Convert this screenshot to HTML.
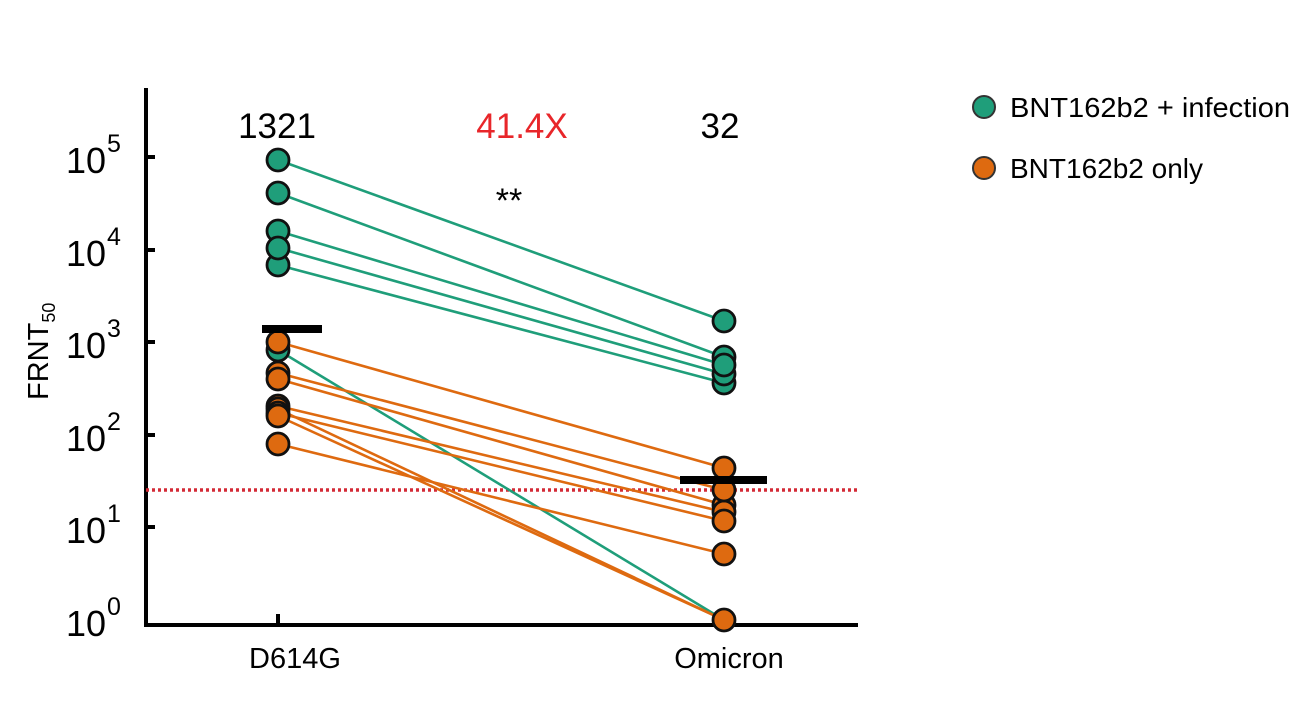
<!DOCTYPE html>
<html><head><style>body{margin:0;background:#fff}svg{display:block}</style></head><body>
<svg width="1303" height="728" xmlns="http://www.w3.org/2000/svg" font-family="Liberation Sans, Arial, sans-serif">
<rect width="1303" height="728" fill="#fff"/>
<line x1="146" y1="88" x2="146" y2="627" stroke="#000" stroke-width="4"/>
<line x1="144" y1="625" x2="858" y2="625" stroke="#000" stroke-width="4"/>
<g stroke="#000" stroke-width="4">
<line x1="146" y1="157" x2="155" y2="157"/><line x1="146" y1="250" x2="155" y2="250"/>
<line x1="146" y1="342" x2="155" y2="342"/><line x1="146" y1="435" x2="155" y2="435"/>
<line x1="146" y1="527" x2="155" y2="527"/><line x1="278" y1="614" x2="278" y2="625"/>
</g>
<g font-size="36" fill="#000" text-anchor="end">
<text x="106" y="173">10</text><text x="106" y="266">10</text><text x="106" y="358">10</text>
<text x="106" y="451">10</text><text x="106" y="543">10</text><text x="106" y="636">10</text>
</g>
<g font-size="25" fill="#000">
<text x="107" y="152">5</text><text x="107" y="245">4</text><text x="107" y="337">3</text>
<text x="107" y="430">2</text><text x="107" y="522">1</text><text x="107" y="615">0</text>
</g>
<text transform="translate(48,400) rotate(-90)" font-size="29">FRNT<tspan font-size="18" dy="7">50</tspan></text>
<text x="295" y="668" font-size="29" text-anchor="middle">D614G</text>
<text x="729" y="668" font-size="29" text-anchor="middle">Omicron</text>
<text x="277" y="138" font-size="35" text-anchor="middle">1321</text>
<text x="522" y="138" font-size="35" text-anchor="middle" fill="#e8262a">41.4X</text>
<text x="720" y="138" font-size="35" text-anchor="middle">32</text>
<text x="509" y="212" font-size="34" text-anchor="middle">**</text>
<line x1="146" y1="490" x2="858" y2="490" stroke="#d42a36" stroke-width="3.5" stroke-dasharray="3,3"/>
<g stroke="#1f9e7a" stroke-width="2.6">
<line x1="278" y1="160" x2="724" y2="321"/><line x1="278" y1="193" x2="724" y2="357"/>
<line x1="278" y1="231" x2="724" y2="365"/><line x1="278" y1="248" x2="724" y2="374"/>
<line x1="278" y1="265" x2="724" y2="383"/><line x1="278" y1="350" x2="724" y2="620"/>
</g>
<g stroke="#de6a10" stroke-width="2.6">
<line x1="278" y1="342" x2="724" y2="468"/><line x1="278" y1="373" x2="724" y2="490"/>
<line x1="278" y1="379" x2="724" y2="505"/><line x1="278" y1="406" x2="724" y2="512"/>
<line x1="278" y1="413" x2="724" y2="521"/><line x1="278" y1="416" x2="724" y2="620"/>
<line x1="278" y1="444" x2="724" y2="554"/><line x1="278" y1="409" x2="724" y2="620"/>
</g>
<g stroke="#111" stroke-width="2.8">
<g fill="#1f9e7a">
<circle cx="278" cy="160" r="11"/><circle cx="278" cy="193" r="11"/><circle cx="278" cy="265" r="11"/>
<circle cx="278" cy="231" r="11"/><circle cx="278" cy="248" r="11"/><circle cx="278" cy="350" r="11"/>
<circle cx="724" cy="321" r="11"/><circle cx="724" cy="383" r="11"/><circle cx="724" cy="357" r="11"/>
<circle cx="724" cy="374" r="11"/><circle cx="724" cy="365" r="11"/>
</g>
<g fill="#de6a10">
<circle cx="278" cy="444" r="11"/><circle cx="278" cy="406" r="11"/><circle cx="278" cy="409" r="11"/>
<circle cx="278" cy="413" r="11"/><circle cx="278" cy="416" r="11"/>
<circle cx="278" cy="373" r="11"/><circle cx="278" cy="379" r="11"/><circle cx="278" cy="342" r="11"/>
<circle cx="724" cy="620" r="11"/><circle cx="724" cy="554" r="11"/><circle cx="724" cy="505" r="11"/>
<circle cx="724" cy="512" r="11"/><circle cx="724" cy="521" r="11"/><circle cx="724" cy="490" r="11"/>
<circle cx="724" cy="468" r="11"/>
</g>
</g>
<rect x="262" y="325" width="60" height="8" fill="#000"/>
<rect x="680" y="476" width="87" height="8" fill="#000"/>
<circle cx="984" cy="107" r="11" fill="#1f9e7a" stroke="#333" stroke-width="2"/>
<circle cx="984" cy="168" r="11" fill="#de6a10" stroke="#333" stroke-width="2"/>
<text x="1010" y="117" font-size="28" textLength="280" lengthAdjust="spacingAndGlyphs">BNT162b2 + infection</text>
<text x="1010" y="178" font-size="28">BNT162b2 only</text>
</svg>
</body></html>
